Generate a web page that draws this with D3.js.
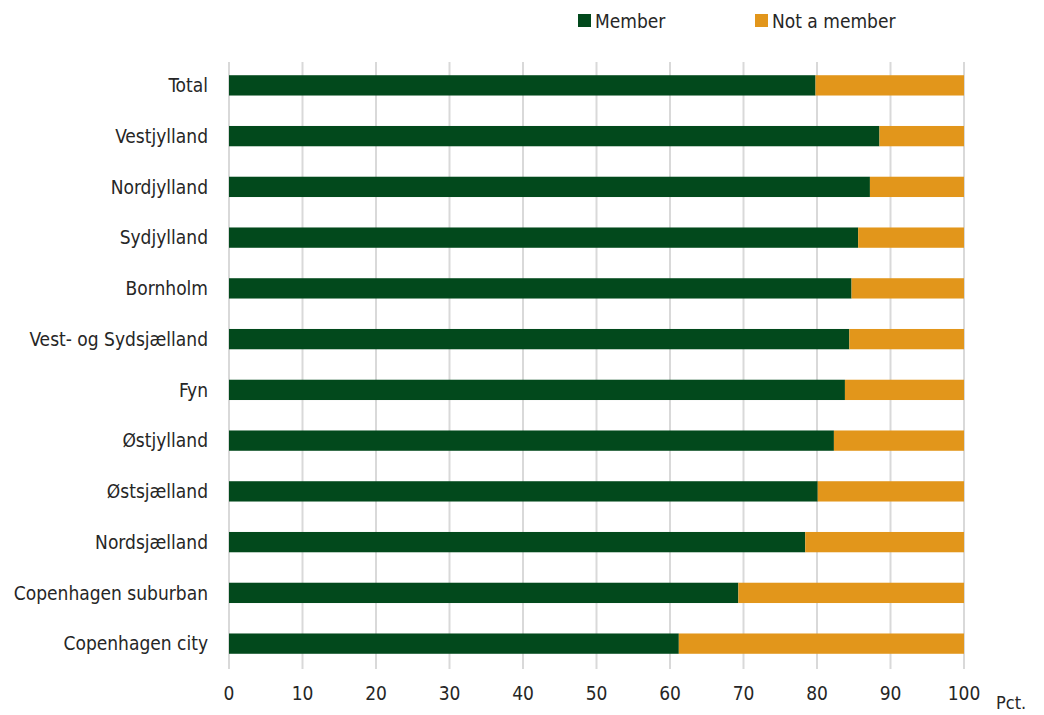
<!DOCTYPE html>
<html>
<head>
<meta charset="utf-8">
<script src="https://cdn.jsdelivr.net/npm/d3@7"></script>
<style>
  body { margin: 0; background: #fff; }
  text { font-family: "DejaVu Sans Condensed", "Liberation Sans Narrow", sans-serif; fill: #262626; }
</style>
</head>
<body>
<div id="chart"></div>
<script>
var regions = ["Total", "Vestjylland", "Nordjylland", "Sydjylland", "Bornholm",
    "Vest- og Sydsjælland", "Fyn", "Østjylland", "Østsjælland", "Nordsjælland",
    "Copenhagen suburban", "Copenhagen city"];
var member = [79.8, 88.5, 87.2, 85.6, 84.7, 84.4, 83.8, 82.3, 80.1, 78.4, 69.3, 61.2];
var notMember = member.map(d => 100 - d);
var seriesNames = ["Member", "Not a member"];
var colors = ["#02491c", "#e2961b"];
var xTicks = [0, 10, 20, 30, 40, 50, 60, 70, 80, 90, 100];

var svgWidth = 1044;
var svgHeight = 715;
var margin = { top: 60, right: 80, bottom: 46, left: 229 };
var width = 964 - margin.left;
var height = svgHeight - margin.top - margin.bottom;

var svg = d3.select("#chart")
    .append("svg")
    .attr("width", svgWidth)
    .attr("height", svgHeight);

var chart = svg.append("g")
    .attr("transform", `translate(${margin.left}, ${margin.top})`);

var xScale = d3.scaleLinear().domain([0, 100]).range([0, width]);
var yScale = d3.scaleBand().domain(regions).range([0, height]).paddingInner(0.6).paddingOuter(0.3);

// gridlines
chart.append("g")
    .selectAll("line")
    .data(xTicks)
    .enter()
    .append("line")
    .attr("x1", d => xScale(d))
    .attr("x2", d => xScale(d))
    .attr("y1", 2)
    .attr("y2", height)
    .attr("stroke", "#d9d9d9")
    .attr("stroke-width", 2);

var rows = regions.map((r, i) => ({ region: r, Member: member[i], "Not a member": notMember[i] }));
var stacked = d3.stack().keys(seriesNames)(rows);

chart.selectAll("g.series")
    .data(stacked)
    .enter()
    .append("g")
    .attr("class", "series")
    .attr("fill", (d, i) => colors[i])
    .selectAll("rect")
    .data(d => d)
    .enter()
    .append("rect")
    .attr("x", d => xScale(d[0]))
    .attr("y", d => yScale(d.data.region))
    .attr("width", d => xScale(d[1]) - xScale(d[0]))
    .attr("height", yScale.bandwidth());

// category labels
chart.append("g")
    .selectAll("text")
    .data(regions)
    .enter()
    .append("text")
    .attr("x", -21)
    .attr("y", d => yScale(d) + yScale.bandwidth() / 2)
    .attr("dy", "0.35em")
    .attr("text-anchor", "end")
    .attr("font-size", 19)
    .text(d => d);

// x tick labels
chart.append("g")
    .selectAll("text")
    .data(xTicks)
    .enter()
    .append("text")
    .attr("x", d => xScale(d))
    .attr("y", height + 31)
    .attr("text-anchor", "middle")
    .attr("font-size", 19)
    .text(d => d);

chart.append("text")
    .attr("x", width + 32)
    .attr("y", height + 40)
    .attr("font-size", 18)
    .text("Pct.");

// legend
var legendX = [578, 755];
var legend = svg.append("g")
    .selectAll("g")
    .data(seriesNames)
    .enter()
    .append("g")
    .attr("transform", (d, i) => `translate(${legendX[i]}, 14)`);

legend.append("rect")
    .attr("width", 13)
    .attr("height", 13)
    .attr("fill", (d, i) => colors[i]);

legend.append("text")
    .attr("x", 17)
    .attr("y", 7)
    .attr("dy", "0.35em")
    .attr("font-size", 19)
    .text(d => d);
</script>
</body>
</html>
